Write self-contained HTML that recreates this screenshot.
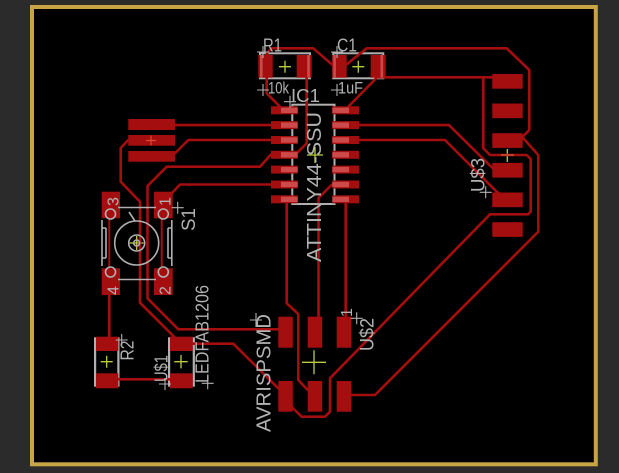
<!DOCTYPE html>
<html><head><meta charset="utf-8"><style>
html,body{margin:0;padding:0;background:#2b2b2b;}
svg{display:block}
text{font-family:"Liberation Sans",sans-serif;fill:#b2b2b2;}
</style></head><body>
<svg width="619" height="473" viewBox="0 0 619 473" xmlns="http://www.w3.org/2000/svg">
<rect width="619" height="473" fill="#2b2b2b"/>
<rect x="32" y="7" width="563.8" height="457.3" fill="#000" stroke="#c9a443" stroke-width="4"/>

<!-- silkscreen outlines under pads -->
<g fill="none" stroke="#b0b0b0" stroke-width="2">
  <rect x="292.3" y="104.7" width="42.2" height="99.3"/>
  <rect x="260" y="53.3" width="50" height="25"/>
  <rect x="333.3" y="53.3" width="50" height="25"/>
</g>
<g fill="#b0b0b0">
  <rect x="94" y="337.3" width="2.2" height="49.4"/>
  <rect x="117.3" y="337.3" width="2.2" height="49.4"/>
  <rect x="168" y="337.3" width="2.2" height="49.4"/>
  <rect x="192.7" y="337.3" width="2.2" height="49.4"/>
</g>

<!-- yellow crosses (under traces) -->
<g stroke="#bccc3a" stroke-width="1.3" fill="none">
  <path d="M279,66.7H291M285,60.7V72.7"/>
  <path d="M352.3,66.7H364.3M358.3,60.7V72.7"/>
  <path d="M307,155H323M315,147V163"/>
  <path d="M507.3,149V162"/>
  <path d="M129.7,243H143.7M136.7,236V250"/>
  <path d="M100.7,361.7H112.7M106.7,355.7V367.7"/>
  <path d="M174.3,361.7H187.7M181,355V368.4"/>
  <path d="M302,362.3H326M314,350.3V374.3"/>
</g>

<!-- traces -->
<g fill="none" stroke="#a50e0e" stroke-width="2.6" stroke-linejoin="round" stroke-linecap="round">
  <path d="M267,62V53L271.7,48.3H313.3L332,64.5L339,66"/>
  <path d="M266.7,70V93.3L280,106.7L284,110.3"/>
  <path d="M306.7,66V143.3L295,155H284"/>
  <path d="M339,66L346.7,64.3L366.7,48.3H506.7L529.3,70V130L521,138.5L507.5,140.5"/>
  <path d="M378,77.3H507.5"/>
  <path d="M483.3,78V148.3L490,155H526.7L530.7,159V211.7L528,214.3H490L330,378.3V411.7L325,416.7H301.7L292.7,408L285.5,396"/>
  <path d="M346,109L376,78.5"/>
  <path d="M507.5,140.5L523.3,138.3L538.3,155V231.7L375,395H344"/>
  <path d="M345,125.1H449L493,168.5L507.5,170"/>
  <path d="M345,140H445L496.7,191.7L507.5,199.8"/>
  <path d="M345,184.5H332L318.5,198V332"/>
  <path d="M345.7,199.3V332"/>
  <path d="M284,199.3H286.7V303.3L298.3,314V380L306,388.3L315,396"/>
  <path d="M284,125.1H151"/>
  <path d="M284,140H188.3L172.3,156H151"/>
  <path d="M284,154.8H270.7L260,166.7H166.7L147.5,186V298.3L178.3,329.3H285.5"/>
  <path d="M284,184.5H180L172,193L163,205"/>
  <path d="M151,140.3H128L120.7,148V181.7L140,201.7V302.7L173.3,336L181,343.7"/>
  <path d="M181,343.7H233.3L278.3,388.3L285.5,396"/>
  <path d="M109.3,281V344"/>
  <path d="M107,379.3H181"/>
</g>
<g fill="none" stroke="#a50e0e" stroke-width="2">
  <path d="M109.3,205V282"/>
  <path d="M161.7,205V282"/>
</g>

<!-- pads -->
<g fill="#a50e0e">
  <!-- IC left -->
  <rect x="271" y="106.3" width="26.7" height="8"/>
  <rect x="271" y="121.1" width="26.7" height="8"/>
  <rect x="271" y="136" width="26.7" height="8"/>
  <rect x="271" y="150.8" width="26.7" height="8"/>
  <rect x="271" y="165.6" width="26.7" height="8"/>
  <rect x="271" y="180.5" width="26.7" height="8"/>
  <rect x="271" y="195.3" width="26.7" height="8"/>
  <!-- IC right -->
  <rect x="332.3" y="106.3" width="26.7" height="8"/>
  <rect x="332.3" y="121.1" width="26.7" height="8"/>
  <rect x="332.3" y="136" width="26.7" height="8"/>
  <rect x="332.3" y="150.8" width="26.7" height="8"/>
  <rect x="332.3" y="165.6" width="26.7" height="8"/>
  <rect x="332.3" y="180.5" width="26.7" height="8"/>
  <rect x="332.3" y="195.3" width="26.7" height="8"/>
  <!-- U$3 -->
  <rect x="492.3" y="74" width="30.4" height="14.7"/>
  <rect x="492.3" y="103.5" width="30.4" height="14.7"/>
  <rect x="492.3" y="133.2" width="30.4" height="14.7"/>
  <rect x="492.3" y="162.9" width="30.4" height="14.7"/>
  <rect x="492.3" y="192.5" width="30.4" height="14.7"/>
  <rect x="492.3" y="222.2" width="30.4" height="14.7"/>
  <!-- resonator -->
  <rect x="128.3" y="119" width="46.7" height="11"/>
  <rect x="128.3" y="135" width="46.7" height="10.7"/>
  <rect x="128.3" y="151" width="46.7" height="10.7"/>
  <!-- S1 -->
  <rect x="101.7" y="191.7" width="18.3" height="26.6"/>
  <rect x="101.7" y="268.3" width="18.3" height="26.7"/>
  <rect x="154" y="191.7" width="18.7" height="26.6"/>
  <rect x="154" y="268.3" width="18.7" height="26.7"/>
  <!-- R2 / LED -->
  <rect x="96" y="336.7" width="22.3" height="14.3"/>
  <rect x="96" y="373.3" width="22.3" height="15"/>
  <rect x="170" y="336.7" width="22.7" height="14.3"/>
  <rect x="170" y="373.3" width="22.7" height="15"/>
  <!-- U$2 -->
  <rect x="278.3" y="316.7" width="14.5" height="31"/>
  <rect x="307.7" y="316.7" width="14.5" height="31"/>
  <rect x="336.7" y="316.7" width="14.7" height="31"/>
  <rect x="278.3" y="381" width="14.5" height="30.7"/>
  <rect x="307.7" y="381" width="14.5" height="30.7"/>
  <rect x="336.7" y="381" width="14.7" height="30.7"/>
  <!-- R1 / C1 -->
  <rect x="258.3" y="55" width="14.4" height="22.7"/>
  <rect x="296.7" y="55" width="15" height="22.7"/>
  <rect x="332.3" y="55" width="14.4" height="22.7"/>
  <rect x="370.7" y="55" width="15" height="22.7"/>
</g>

<!-- lighter pad highlights -->
<g fill="#cd4a4a">
  <rect x="281" y="107.6" width="16.7" height="5.4"/>
  <rect x="281" y="122.4" width="16.7" height="5.4"/>
  <rect x="281" y="137.3" width="16.7" height="5.4"/>
  <rect x="281" y="152.1" width="16.7" height="5.4"/>
  <rect x="281" y="166.9" width="16.7" height="5.4"/>
  <rect x="281" y="181.8" width="16.7" height="5.4"/>
  <rect x="281" y="196.6" width="16.7" height="5.4"/>
  <rect x="332.3" y="107.6" width="16.7" height="5.4"/>
  <rect x="332.3" y="122.4" width="16.7" height="5.4"/>
  <rect x="332.3" y="137.3" width="16.7" height="5.4"/>
  <rect x="332.3" y="152.1" width="16.7" height="5.4"/>
  <rect x="332.3" y="166.9" width="16.7" height="5.4"/>
  <rect x="332.3" y="181.8" width="16.7" height="5.4"/>
  <rect x="332.3" y="196.6" width="16.7" height="5.4"/>
  <rect x="260" y="55" width="2.6" height="22.7"/>
  <rect x="307.2" y="55" width="2.6" height="22.7"/>
  <rect x="333.3" y="55" width="2.6" height="22.7"/>
  <rect x="380.5" y="55" width="2.6" height="22.7"/>
</g>

<!-- S1 silkscreen -->
<g fill="none" stroke="#b0b0b0" stroke-width="1.6">
  <path d="M118,207.5H156M118,279.5H156"/>
  <path d="M102,220V266M171.8,220V266"/>
  <path d="M106,228V258M168,228V258M102,228H106M102,258H106M168,228H172M168,258H172"/>
  <circle cx="136.7" cy="243" r="22"/>
  <circle cx="136.7" cy="243" r="8"/>
  <circle cx="136.7" cy="243" r="3"/>
  <path d="M129,212L135,221"/>
  <circle cx="110.5" cy="214" r="5"/>
  <circle cx="110.5" cy="272" r="5"/>
  <circle cx="163.3" cy="214" r="5"/>
  <circle cx="163.3" cy="272" r="5"/>
</g>

<!-- special crosses over traces -->
<path d="M501,155H514" stroke="#d0602a" stroke-width="1.3"/>
<path d="M146,140.5H156M151,135.5V145.5" stroke="#e04a2a" stroke-width="1.2"/>

<!-- grey origin crosses -->
<g stroke="#b0b0b0" stroke-width="1.1" fill="none">
  <path d="M257,52H269M263,46V58"/>
  <path d="M331,52H343M337,46V58"/>
  <path d="M257,90H269M263,84V96"/>
  <path d="M331,90H343M337,84V96"/>
  <path d="M284,101.7H296M290,95.7V107.7"/>
  <path d="M479.7,192.3H491.7M485.7,186.3V198.3"/>
  <path d="M171.7,207.7H183.7M177.7,201.7V213.7"/>
  <path d="M115.7,340H127.7M121.7,334V346"/>
  <path d="M159,384H171M165,378V390"/>
  <path d="M201.7,383.3H213.7M207.7,377.3V389.3"/>
  <path d="M250,320H262M256,313V327"/>
  <path d="M350.7,318.3H362.7M356.7,312.3V324.3"/>
</g>

<!-- labels -->
<text x="263" y="51.7" font-size="18" textLength="19" lengthAdjust="spacingAndGlyphs">R1</text>
<text x="337" y="51.7" font-size="18" textLength="20" lengthAdjust="spacingAndGlyphs">C1</text>
<text x="268" y="93.3" font-size="17" textLength="21" lengthAdjust="spacingAndGlyphs">10k</text>
<text x="338" y="93.3" font-size="17" textLength="25" lengthAdjust="spacingAndGlyphs">1uF</text>
<text x="291" y="102" font-size="18.5" textLength="29" lengthAdjust="spacingAndGlyphs">IC1</text>

<text transform="translate(321,262) rotate(-90)" font-size="20" textLength="150" lengthAdjust="spacingAndGlyphs">ATTINY44-SSU</text>
<text transform="translate(484.5,192) rotate(-90)" font-size="19" textLength="34" lengthAdjust="spacingAndGlyphs">U$3</text>
<text transform="translate(195,231) rotate(-90)" font-size="19" textLength="23" lengthAdjust="spacingAndGlyphs">S1</text>
<text transform="translate(208.5,383) rotate(-90)" font-size="18.5" textLength="98" lengthAdjust="spacingAndGlyphs">LEDFAB1206</text>
<text transform="translate(167.5,382) rotate(-90)" font-size="18.5" textLength="27" lengthAdjust="spacingAndGlyphs">U$1</text>
<text transform="translate(133.5,360.5) rotate(-90)" font-size="18.5" textLength="20" lengthAdjust="spacingAndGlyphs">R2</text>
<text transform="translate(270.5,432) rotate(-90)" font-size="20" textLength="118" lengthAdjust="spacingAndGlyphs">AVRISPSMD</text>
<text transform="translate(373.5,351) rotate(-90)" font-size="19" textLength="33" lengthAdjust="spacingAndGlyphs">U$2</text>
<text transform="translate(352,317) rotate(-90)" font-size="16">1</text>

<text transform="translate(118.5,206) rotate(-90)" font-size="16">3</text>
<text transform="translate(118.5,295) rotate(-90)" font-size="16">4</text>
<text transform="translate(170.5,206) rotate(-90)" font-size="16">1</text>
<text transform="translate(170.5,295) rotate(-90)" font-size="16">2</text>
</svg>
</body></html>
